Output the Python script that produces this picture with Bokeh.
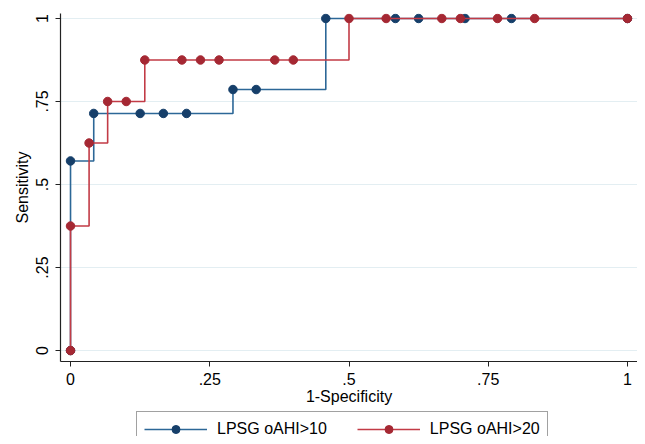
from bokeh.plotting import figure
from bokeh.layouts import column
from bokeh.models import Range1d, FixedTicker, Legend, LegendItem
from bokeh.embed import file_html
from bokeh.resources import INLINE

# Data (1-Specificity, Sensitivity)
blue_x = [0, 0, 1/24, 3/24, 4/24, 5/24, 7/24, 8/24, 11/24, 14/24, 15/24, 17/24, 19/24, 1]
blue_y = [0, 0.571, 0.714, 0.714, 0.714, 0.714, 0.786, 0.786, 1, 1, 1, 1, 1, 1]
red_x = [0, 0, 1/30, 2/30, 3/30, 4/30, 6/30, 7/30, 8/30, 11/30, 12/30, 15/30, 17/30, 20/30,
         21/30, 23/30, 25/30, 1]
red_y = [0, 0.375, 0.625, 0.75, 0.75, 0.875, 0.875, 0.875, 0.875, 0.875, 0.875, 1, 1, 1,
         1, 1, 1, 1]
series_names = ["LPSG oAHI>10", "LPSG oAHI>20"]
tick_vals = [0, 0.25, 0.5, 0.75, 1]
tick_labels = ["0", ".25", ".5", ".75", "1"]

FONT = "Liberation Sans"
BLUE_LINE, BLUE_DOT = "#2c6797", "#163f6a"
RED_LINE, RED_DOT = "#c23b46", "#a52833"

p = figure(width=637, height=411, output_backend="svg", toolbar_location=None,
           x_range=Range1d(-0.018, 1.018), y_range=Range1d(-0.033, 1.015),
           min_border_top=13, min_border_right=0, min_border_left=60,
           min_border_bottom=50)
p.outline_line_color = None
p.background_fill_color = "white"
p.border_fill_color = "white"

p.step(blue_x, blue_y, mode="after", line_color=BLUE_LINE, line_width=1.6)
p.scatter(blue_x, blue_y, size=8.5, fill_color=BLUE_DOT, line_color=BLUE_DOT)
p.step(red_x, red_y, mode="after", line_color=RED_LINE, line_width=1.6)
p.scatter(red_x, red_y, size=8.5, fill_color=RED_DOT, line_color=RED_DOT)

for ax in (p.xaxis[0], p.yaxis[0]):
    ax.ticker = FixedTicker(ticks=tick_vals)
    ax.major_label_overrides = {v: l for v, l in zip(tick_vals, tick_labels)}
    ax.major_label_text_font = FONT
    ax.major_label_text_font_size = "16px"
    ax.major_label_text_color = "black"
    ax.axis_label_text_font = FONT
    ax.axis_label_text_font_size = "16px"
    ax.axis_label_text_font_style = "normal"
    ax.axis_label_text_color = "black"
    ax.axis_line_color = "#222222"
    ax.axis_line_width = 1.2
    ax.major_tick_line_color = "#222222"
    ax.major_tick_out = 5
    ax.major_tick_in = 0
    ax.minor_tick_line_color = None

p.xaxis.axis_label = "1-Specificity"
p.yaxis.axis_label = "Sensitivity"
p.xaxis.major_label_standoff = 6
p.xaxis.axis_label_standoff = 0
p.yaxis.major_label_orientation = "vertical"
p.yaxis.major_label_standoff = 7
p.yaxis.axis_label_standoff = 3

p.xgrid.grid_line_color = None
p.ygrid.ticker = FixedTicker(ticks=tick_vals)
p.ygrid.grid_line_color = "#e3eef2"
p.ygrid.grid_line_width = 1

# Legend strip below the chart
q = figure(width=637, height=25, output_backend="svg", toolbar_location=None,
           x_axis_type=None, y_axis_type=None, min_border=0,
           x_range=Range1d(-0.018, 1.018), y_range=Range1d(-0.033, 1.015))
q.outline_line_color = None
q.xgrid.grid_line_color = None
q.ygrid.grid_line_color = None
lb = q.step(blue_x, blue_y, mode="after", line_color=BLUE_LINE, line_width=1.6, visible=False)
sb = q.scatter(blue_x, blue_y, size=8, fill_color=BLUE_DOT, line_color=BLUE_DOT, visible=False)
lr = q.step(red_x, red_y, mode="after", line_color=RED_LINE, line_width=1.6, visible=False)
sr = q.scatter(red_x, red_y, size=8, fill_color=RED_DOT, line_color=RED_DOT, visible=False)

legend = Legend(items=[LegendItem(label=series_names[0], renderers=[lb, sb]),
                       LegendItem(label=series_names[1], renderers=[lr, sr])],
                orientation="horizontal", location=(76, -11))
legend.label_text_font = FONT
legend.label_text_font_size = "16px"
legend.label_text_color = "black"
legend.glyph_width = 63
legend.glyph_height = 20
legend.label_height = 20
legend.label_standoff = 10
legend.spacing = 30
legend.padding = 7
legend.margin = 0
legend.border_line_color = "#444444"
legend.border_line_width = 1
legend.background_fill_color = "white"
legend.inactive_fill_alpha = 0
q.add_layout(legend, "center")

layout = column(p, q, spacing=0)
open("out.html", "w").write(file_html(layout, INLINE))
